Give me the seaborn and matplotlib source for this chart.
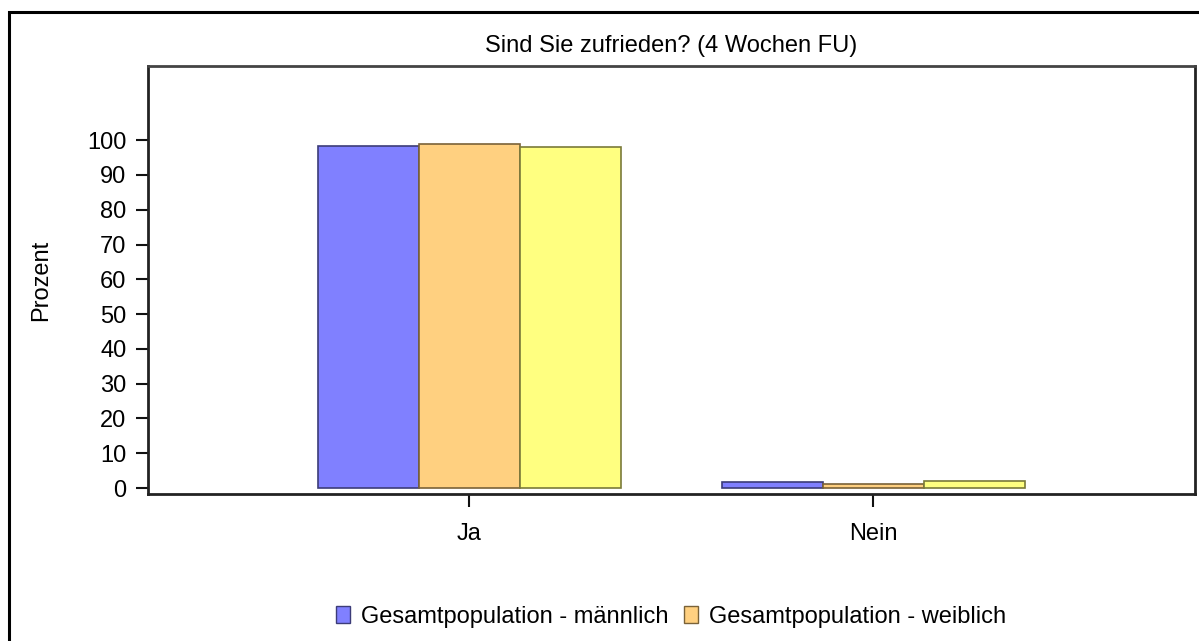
import matplotlib
matplotlib.use("Agg")
import matplotlib.pyplot as plt
from matplotlib.patches import Rectangle, Patch
import seaborn as sns
import pandas as pd

# values (percent)
categories = ["Ja", "Nein"]
groups = ["Gesamtpopulation - männlich", "Gesamtpopulation - weiblich", "Gesamtpopulation - divers"]
maennlich = [98.2, 1.8]
weiblich = [98.9, 1.1]
dritte = [97.9, 2.1]

fill_colors = ["#8080FF", "#FFD080", "#FFFF80"]
edge_colors = ["#3c3c78", "#7a6238", "#7a7a3a"]

rows = []
for g, vals in zip(groups, [maennlich, weiblich, dritte]):
    for c, v in zip(categories, vals):
        rows.append({"Antwort": c, "Gruppe": g, "Prozent": v})
df = pd.DataFrame(rows)

sns.set_theme(style="white")
plt.rcParams["font.family"] = ["Liberation Sans", "DejaVu Sans"]
plt.rcParams["text.color"] = "black"
plt.rcParams["xtick.color"] = "black"
plt.rcParams["ytick.color"] = "black"
plt.rcParams["axes.labelcolor"] = "black"

fs = 17

fig = plt.figure(figsize=(11.99, 6.41), dpi=100)
W, H = 1199, 641
ax = fig.add_axes([148 / W, 1 - 494 / H, (1195 - 148) / W, (494 - 66) / H])

sns.barplot(data=df, x="Antwort", y="Prozent", hue="Gruppe", order=categories,
            hue_order=groups, palette=fill_colors, saturation=1, width=0.75,
            gap=0, errorbar=None, ax=ax, legend=False)

for cont, ec in zip(ax.containers, edge_colors):
    for bar in cont:
        bar.set_edgecolor(ec)
        bar.set_linewidth(1.2)

ax.set_xlim(-0.795, 1.797)
ax.set_ylim(-1.7, 121.3)
ax.set_yticks(range(0, 101, 10))
ax.tick_params(axis="both", which="both", direction="out", length=9, width=1.5,
               color="#111111", labelsize=fs, pad=6.5, bottom=True, left=True)
ax.tick_params(axis="x", pad=12)
for s in ax.spines.values():
    s.set_visible(True)
    s.set_color("#222222")
    s.set_linewidth(2)
ax.spines["top"].set_color("#444444")
ax.set_xlabel("")
ax.set_ylabel("Prozent", fontsize=fs, labelpad=25)
ax.set_title("Sind Sie zufrieden? (4 Wochen FU)", fontsize=fs, pad=10)

handles = [Patch(facecolor=fill_colors[i], edgecolor=edge_colors[i], label=groups[i]) for i in range(2)]
fig.legend(handles=handles, loc="center", bbox_to_anchor=(671 / W, 1 - 617 / H), ncol=2,
           frameon=False, fontsize=fs, handlelength=0.6, handleheight=0.75,
           handletextpad=0.45, columnspacing=0.68)

# outer frame, cut off on the right and bottom
fig.patches.append(Rectangle((9 / W, -0.1), 1.2, 1 - 12 / H + 0.1, transform=fig.transFigure,
                             fill=False, edgecolor="black", linewidth=2.2))

fig.savefig("out.png", dpi=100)
